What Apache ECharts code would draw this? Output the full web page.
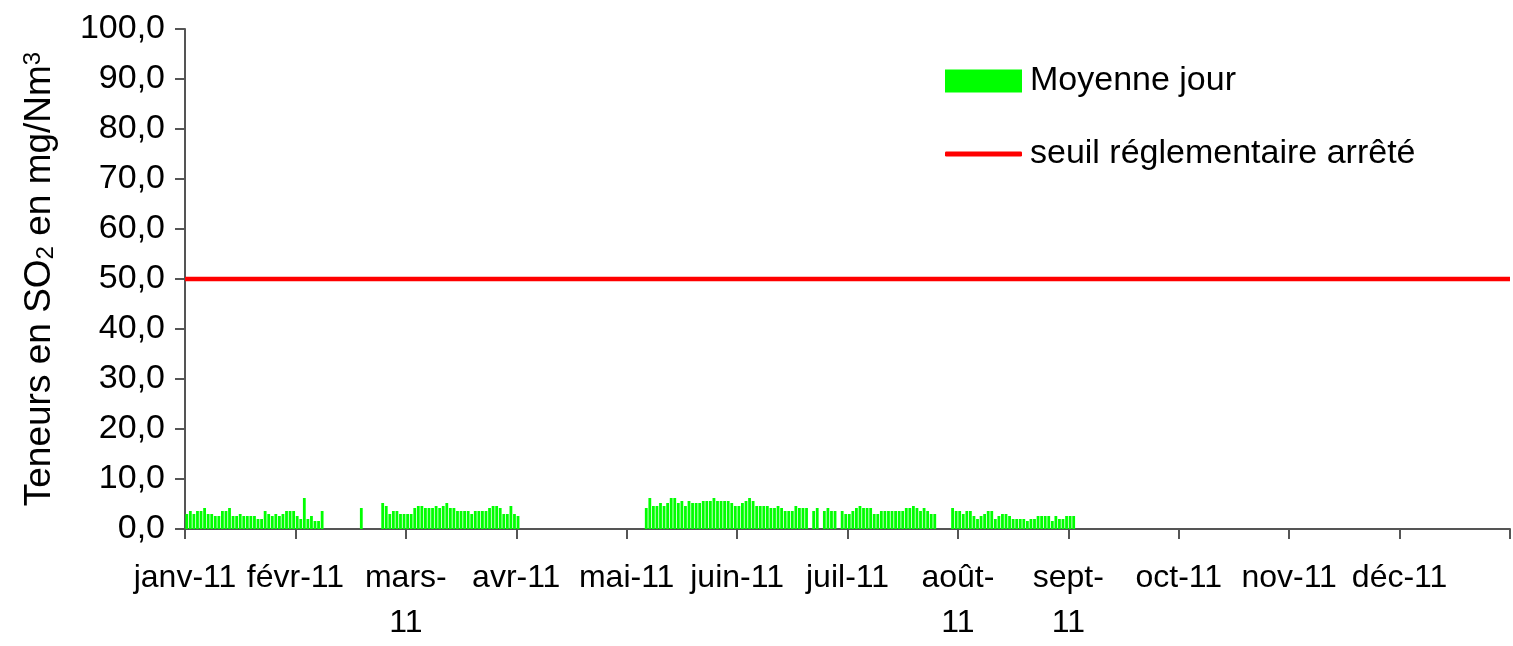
<!DOCTYPE html>
<html>
<head>
<meta charset="utf-8">
<script src="https://cdn.jsdelivr.net/npm/echarts@6/dist/echarts.min.js"></script>
<style>
  html, body { margin: 0; padding: 0; background: #fff; }
  #chart { width: 1513px; height: 646px; }
</style>
</head>
<body>
<div id="chart"></div>
<script>
// libellés des mois (axe X) - 31 jours par graduation
const moisLabels = ["janv-11", "févr-11", "mars-\n11", "avr-11", "mai-11", "juin-11",
  "juil-11", "août-\n11", "sept-\n11", "oct-11", "nov-11", "déc-11"];
const joursParMois = 31;

// moyennes journalières SO2 (mg/Nm3), null = pas de mesure
const janv = [3.0, 3.6, 3.0, 3.6, 3.6, 4.2, 3.0, 3.0, 2.6, 2.6, 3.6, 3.6, 4.2, 2.6, 2.6, 3.0,
  2.6, 2.6, 2.6, 2.6, 2.0, 2.0, 3.6, 3.0, 2.6, 3.0, 2.6, 3.0, 3.6, 3.6, 3.6];
const fevr = [2.6, 2.0, 6.2, 2.0, 2.6, 1.6, 1.6, 3.6, null, null, null, null, null, null, null, null,
  null, null, 4.2, null, null, null, null, null, 5.2, 4.6, 3.0, 3.6, 3.6, 3.0, 3.0];
const mars = [3.0, 3.0, 4.2, 4.6, 4.6, 4.2, 4.2, 4.2, 4.6, 4.2, 4.6, 5.2, 4.2, 4.2, 3.6, 3.6,
  3.6, 3.6, 3.0, 3.6, 3.6, 3.6, 3.6, 4.2, 4.6, 4.6, 4.2, 3.0, 3.0, 4.6, 3.0];
const avr = [2.6, null, null, null, null, null, null, null, null, null, null, null, null, null, null, null,
  null, null, null, null, null, null, null, null, null, null, null, null, null, null, null];
const mai = [null, null, null, null, null, 4.2, 6.2, 4.6, 4.6, 5.2, 4.6, 5.2, 6.2, 6.2, 5.2, 5.6,
  4.6, 5.6, 5.2, 5.2, 5.2, 5.6, 5.6, 5.6, 6.2, 5.6, 5.6, 5.6, 5.6, 5.2, 4.6];
const juin = [4.6, 5.2, 5.6, 6.2, 5.6, 4.6, 4.6, 4.6, 4.6, 4.2, 4.2, 4.6, 4.2, 3.6, 3.6, 3.6,
  4.6, 4.2, 4.2, 4.2, null, 3.6, 4.2, null, 3.6, 4.2, 3.6, 3.6, null, 3.6, 3.0];
const juil = [3.0, 3.6, 4.2, 4.6, 4.2, 4.2, 4.2, 3.0, 3.0, 3.6, 3.6, 3.6, 3.6, 3.6, 3.6, 3.6,
  4.2, 4.2, 4.6, 4.2, 3.6, 4.2, 3.6, 3.0, 3.0, null, null, null, null, 4.2, 3.6];
const aout = [3.6, 3.0, 3.6, 3.6, 2.6, 2.0, 2.6, 3.0, 3.6, 3.6, 2.0, 2.6, 3.0, 3.0, 2.6, 2.0,
  2.0, 2.0, 2.0, 1.6, 2.0, 2.0, 2.6, 2.6, 2.6, 2.6, 1.6, 2.6, 2.0, 2.0, 2.6];
const sept = [2.6, 2.6];

const seuilArrete = 50;
const yTicks = [0, 10, 20, 30, 40, 50, 60, 70, 80, 90, 100];

const moyenneJour = [].concat(janv, fevr, mars, avr, mai, juin, juil, aout, sept);
const xMax = joursParMois * moisLabels.length;

const barData = [];
moyenneJour.forEach((v, i) => {
  if (v !== null) barData.push([i + 0.5, v]);
});

const police = "'Liberation Sans', Arial, sans-serif";
const chart = echarts.init(document.getElementById("chart"));

const legendeTexte = { fontSize: 34, color: "#000", fontFamily: police, padding: [0, 0, 0, 3] };

const option = {
  animation: false,
  textStyle: { fontFamily: police, color: "#000" },
  grid: { left: 185, right: 1, top: 29, bottom: 106 },
  legend: [
    {
      left: 945,
      top: 64,
      padding: 0,
      itemWidth: 77,
      itemHeight: 23,
      textStyle: legendeTexte,
      data: [{ name: "Moyenne jour", icon: "rect" }]
    },
    {
      left: 945,
      top: 137,
      padding: 0,
      itemWidth: 77,
      itemHeight: 5,
      textStyle: legendeTexte,
      data: [{ name: "seuil réglementaire arrêté", icon: "roundRect" }]
    }
  ],
  xAxis: {
    type: "value",
    min: 0,
    max: xMax,
    interval: joursParMois,
    splitLine: { show: false },
    axisLine: { lineStyle: { color: "#555", width: 2 } },
    axisTick: { length: 10, lineStyle: { color: "#555", width: 2 } },
    axisLabel: {
      fontSize: 32,
      lineHeight: 45,
      margin: 27,
      color: "#000",
      fontFamily: police,
      formatter: (v) => moisLabels[Math.round(v / joursParMois)] || ""
    }
  },
  yAxis: {
    type: "value",
    min: yTicks[0],
    max: yTicks[yTicks.length - 1],
    interval: 10,
    splitLine: { show: false },
    axisLine: { show: true, lineStyle: { color: "#555", width: 2 } },
    axisTick: { show: true, length: 10, lineStyle: { color: "#555", width: 2 } },
    axisLabel: {
      fontSize: 34,
      margin: 20,
      color: "#000",
      fontFamily: police,
      formatter: (v) => v.toFixed(1).replace(".", ",")
    },
    name: "Teneurs en SO{sub|2} en mg/Nm{sup|3}",
    nameLocation: "middle",
    nameRotate: 90,
    nameGap: 127,
    nameTextStyle: {
      fontSize: 37,
      color: "#000",
      fontFamily: police,
      rich: {
        sub: { fontSize: 24, verticalAlign: "bottom", color: "#000", fontFamily: police },
        sup: { fontSize: 24, verticalAlign: "top", color: "#000", fontFamily: police }
      }
    }
  },
  series: [
    {
      name: "Moyenne jour",
      type: "bar",
      data: barData,
      barWidth: 2.8,
      itemStyle: { color: "#00ff00" }
    },
    {
      name: "seuil réglementaire arrêté",
      type: "line",
      data: [[0, seuilArrete], [xMax, seuilArrete]],
      showSymbol: false,
      symbol: "none",
      lineStyle: { color: "#ff0000", width: 4.5 },
      itemStyle: { color: "#ff0000" },
      z: 3
    }
  ]
};

chart.setOption(option);
</script>
</body>
</html>
